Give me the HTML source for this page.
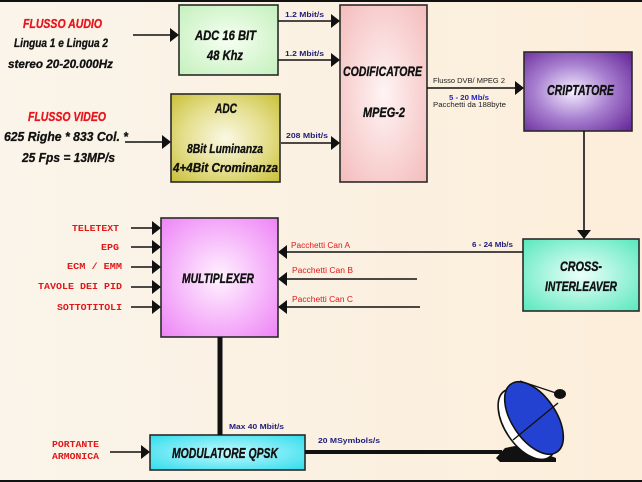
<!DOCTYPE html>
<html><head><meta charset="utf-8"><style>
html,body{margin:0;padding:0;width:642px;height:482px;overflow:hidden;background:#FBF0E0}
svg{display:block}
.bx{font-family:"Liberation Sans",sans-serif;font-weight:bold;font-style:italic;fill:#111;stroke:#111;stroke-width:0.35}
.rd{font-family:"Liberation Sans",sans-serif;font-weight:bold;font-style:italic;fill:#E8141C;stroke:#E8141C;stroke-width:0.3}
.bk{font-family:"Liberation Sans",sans-serif;font-weight:bold;font-style:italic;fill:#111;stroke:#111;stroke-width:0.3}
.nv{font-family:"Liberation Sans",sans-serif;font-weight:bold;fill:#22207A;font-size:7px}
.rs{font-family:"Liberation Sans",sans-serif;fill:#E01818;font-size:8px}
.mo{font-family:"Liberation Mono",monospace;font-weight:bold;fill:#E01818;font-size:9px}
</style></head><body>
<svg width="642" height="482" viewBox="0 0 642 482" xmlns="http://www.w3.org/2000/svg">
<defs>
<linearGradient id="bg" x1="0" y1="0" x2="1" y2="0">
<stop offset="0" stop-color="#FAF4EA"/><stop offset="1" stop-color="#FCEEDA"/>
</linearGradient>
<radialGradient id="gGreen" cx="0.5" cy="0.5" r="0.7"><stop offset="0" stop-color="#F6FFF2"/><stop offset="1" stop-color="#C4F0BC"/></radialGradient>
<radialGradient id="gOlive" cx="0.5" cy="0.5" r="0.7"><stop offset="0" stop-color="#FAF8E4"/><stop offset="0.55" stop-color="#E4DE8C"/><stop offset="1" stop-color="#C8C038"/></radialGradient>
<radialGradient id="gPink" cx="0.5" cy="0.5" r="0.7"><stop offset="0" stop-color="#FFF4F4"/><stop offset="1" stop-color="#F4BCBC"/></radialGradient>
<radialGradient id="gPurp" cx="0.45" cy="0.5" r="0.7"><stop offset="0" stop-color="#F4EEFF"/><stop offset="0.5" stop-color="#A880D0"/><stop offset="1" stop-color="#6A2C9C"/></radialGradient>
<radialGradient id="gAqua" cx="0.5" cy="0.5" r="0.7"><stop offset="0" stop-color="#ECFFFA"/><stop offset="1" stop-color="#58E8BC"/></radialGradient>
<radialGradient id="gViol" cx="0.5" cy="0.5" r="0.7"><stop offset="0" stop-color="#FFF2FF"/><stop offset="1" stop-color="#EE84F6"/></radialGradient>
<radialGradient id="gCyan" cx="0.5" cy="0.5" r="0.7"><stop offset="0" stop-color="#C4FAFF"/><stop offset="1" stop-color="#30DCEC"/></radialGradient>
</defs>
<rect x="0" y="0" width="642" height="482" fill="url(#bg)"/>
<rect x="0" y="0" width="642" height="2" fill="#111"/>
<rect x="0" y="480" width="642" height="2" fill="#111"/>

<g stroke="#2a2a2a" stroke-width="1.6">
<rect x="179" y="5" width="99" height="70" fill="url(#gGreen)"/>
<rect x="171" y="94" width="109" height="88" fill="url(#gOlive)"/>
<rect x="340" y="5" width="87" height="177" fill="url(#gPink)"/>
<rect x="524" y="52" width="108" height="79" fill="url(#gPurp)"/>
<rect x="523" y="239" width="116" height="72" fill="url(#gAqua)"/>
<rect x="161" y="218" width="117" height="119" fill="url(#gViol)"/>
<rect x="150" y="435" width="155" height="35" fill="url(#gCyan)"/>
</g>

<g class="bx">
<text x="195" y="40" font-size="14" textLength="61" lengthAdjust="spacingAndGlyphs">ADC 16 BIT</text>
<text x="207" y="60" font-size="14" textLength="36" lengthAdjust="spacingAndGlyphs">48 Khz</text>
<text x="215" y="113" font-size="14" textLength="22" lengthAdjust="spacingAndGlyphs">ADC</text>
<text x="187" y="153" font-size="13" textLength="76" lengthAdjust="spacingAndGlyphs">8Bit Luminanza</text>
<text x="173" y="172" font-size="13" textLength="105" lengthAdjust="spacingAndGlyphs">4+4Bit Crominanza</text>
<text x="343" y="76" font-size="14" textLength="79" lengthAdjust="spacingAndGlyphs">CODIFICATORE</text>
<text x="363" y="117" font-size="14" textLength="42" lengthAdjust="spacingAndGlyphs">MPEG-2</text>
<text x="547" y="95" font-size="15" textLength="67" lengthAdjust="spacingAndGlyphs">CRIPTATORE</text>
<text x="560" y="271" font-size="14" textLength="42" lengthAdjust="spacingAndGlyphs">CROSS-</text>
<text x="545" y="291" font-size="14" textLength="72" lengthAdjust="spacingAndGlyphs">INTERLEAVER</text>
<text x="182" y="283" font-size="14" textLength="72" lengthAdjust="spacingAndGlyphs">MULTIPLEXER</text>
<text x="172" y="458" font-size="15" textLength="106" lengthAdjust="spacingAndGlyphs">MODULATORE QPSK</text>
</g>

<text class="rd" x="23" y="28" font-size="13" textLength="79" lengthAdjust="spacingAndGlyphs">FLUSSO AUDIO</text>
<text class="bk" x="14" y="47" font-size="12" textLength="94" lengthAdjust="spacingAndGlyphs">Lingua 1 e Lingua 2</text>
<text class="bk" x="8" y="68" font-size="12" textLength="105" lengthAdjust="spacingAndGlyphs">stereo 20-20.000Hz</text>
<text class="rd" x="28" y="121" font-size="13" textLength="78" lengthAdjust="spacingAndGlyphs">FLUSSO VIDEO</text>
<text class="bk" x="4" y="141" font-size="13" textLength="124" lengthAdjust="spacingAndGlyphs">625 Righe * 833 Col. *</text>
<text class="bk" x="22" y="162" font-size="13" textLength="93" lengthAdjust="spacingAndGlyphs">25 Fps = 13MP/s</text>

<text class="nv" x="285" y="17" textLength="39" lengthAdjust="spacingAndGlyphs">1.2 Mbit/s</text>
<text class="nv" x="285" y="56" textLength="39" lengthAdjust="spacingAndGlyphs">1.2 Mbit/s</text>
<text class="nv" x="286" y="138" textLength="42" lengthAdjust="spacingAndGlyphs">208 Mbit/s</text>
<text x="433" y="83" font-family="Liberation Sans,sans-serif" font-size="7" fill="#222" textLength="72" lengthAdjust="spacingAndGlyphs">Flusso DVB/ MPEG 2</text>
<text x="449" y="100" font-family="Liberation Sans,sans-serif" font-weight="bold" font-size="7" fill="#2222C8" textLength="40" lengthAdjust="spacingAndGlyphs">5 - 20 Mb/s</text>
<text x="433" y="107" font-family="Liberation Sans,sans-serif" font-size="7" fill="#222" textLength="73" lengthAdjust="spacingAndGlyphs">Pacchetti da 188byte</text>
<text class="nv" x="472" y="247" textLength="41" lengthAdjust="spacingAndGlyphs">6 - 24 Mb/s</text>
<text class="rs" x="291" y="248" textLength="59" lengthAdjust="spacingAndGlyphs">Pacchetti Can A</text>
<text class="rs" x="292" y="273" textLength="61" lengthAdjust="spacingAndGlyphs">Pacchetti Can B</text>
<text class="rs" x="292" y="302" textLength="61" lengthAdjust="spacingAndGlyphs">Pacchetti Can C</text>
<text class="nv" x="229" y="429" textLength="55" lengthAdjust="spacingAndGlyphs">Max 40 Mbit/s</text>
<text class="nv" x="318" y="443" textLength="62" lengthAdjust="spacingAndGlyphs">20 MSymbols/s</text>

<text class="mo" x="72" y="231" textLength="47" lengthAdjust="spacingAndGlyphs">TELETEXT</text>
<text class="mo" x="101" y="250" textLength="18" lengthAdjust="spacingAndGlyphs">EPG</text>
<text class="mo" x="67" y="269" textLength="55" lengthAdjust="spacingAndGlyphs">ECM / EMM</text>
<text class="mo" x="38" y="289" textLength="84" lengthAdjust="spacingAndGlyphs">TAVOLE DEI PID</text>
<text class="mo" x="57" y="310" textLength="65" lengthAdjust="spacingAndGlyphs">SOTTOTITOLI</text>
<text class="mo" x="52" y="447" textLength="47" lengthAdjust="spacingAndGlyphs">PORTANTE</text>
<text class="mo" x="52" y="459" textLength="47" lengthAdjust="spacingAndGlyphs">ARMONICA</text>

<g stroke="#111" stroke-width="1.6" fill="none">
<line x1="133" y1="35" x2="172" y2="35"/>
<line x1="125" y1="142" x2="164" y2="142"/>
<line x1="278" y1="21" x2="332" y2="21"/>
<line x1="278" y1="60" x2="332" y2="60"/>
<line x1="281" y1="143" x2="332" y2="143"/>
<line x1="427" y1="88" x2="516" y2="88"/>
<line x1="584" y1="131" x2="584" y2="231"/>
<line x1="523" y1="252" x2="285" y2="252"/>
<line x1="417" y1="279" x2="285" y2="279"/>
<line x1="420" y1="307" x2="285" y2="307"/>
<line x1="131" y1="228" x2="154" y2="228"/>
<line x1="131" y1="247" x2="154" y2="247"/>
<line x1="131" y1="267" x2="154" y2="267"/>
<line x1="131" y1="287" x2="154" y2="287"/>
<line x1="131" y1="307" x2="154" y2="307"/>
<line x1="110" y1="452" x2="143" y2="452"/>
</g>
<line x1="220" y1="337" x2="220" y2="435" stroke="#111" stroke-width="5"/>
<line x1="305" y1="452" x2="502" y2="452" stroke="#111" stroke-width="4"/>

<g fill="#111">
<polygon points="170,28 179,35 170,42"/>
<polygon points="162,135 171,142 162,149"/>
<polygon points="331,14 340,21 331,28"/>
<polygon points="331,53 340,60 331,67"/>
<polygon points="331,136 340,143 331,150"/>
<polygon points="515,81 524,88 515,95"/>
<polygon points="577,230 591,230 584,239"/>
<polygon points="287,245 278,252 287,259"/>
<polygon points="287,272 278,279 287,286"/>
<polygon points="287,300 278,307 287,314"/>
<polygon points="152,221 161,228 152,235"/>
<polygon points="152,240 161,247 152,254"/>
<polygon points="152,260 161,267 152,274"/>
<polygon points="152,280 161,287 152,294"/>
<polygon points="152,300 161,307 152,314"/>
<polygon points="141,445 150,452 141,459"/>
</g>

<g>
<path d="M496,458 L505,448 L515,446 L540,452 L556,458 L556,462 L500,462 Z" fill="#111"/>
<ellipse cx="527" cy="424" rx="22" ry="40" transform="rotate(-34 527 424)" fill="#fff" stroke="#111" stroke-width="1.6"/>
<ellipse cx="534" cy="418" rx="22" ry="41" transform="rotate(-34 534 418)" fill="#2342D2" stroke="#111" stroke-width="1.6"/>
<line x1="513" y1="440" x2="558" y2="403" stroke="#111" stroke-width="1.4"/>
<line x1="520" y1="381" x2="556" y2="393" stroke="#111" stroke-width="1.2"/>
<ellipse cx="560" cy="394" rx="6" ry="5" fill="#111"/>
</g>
</svg>
</body></html>
